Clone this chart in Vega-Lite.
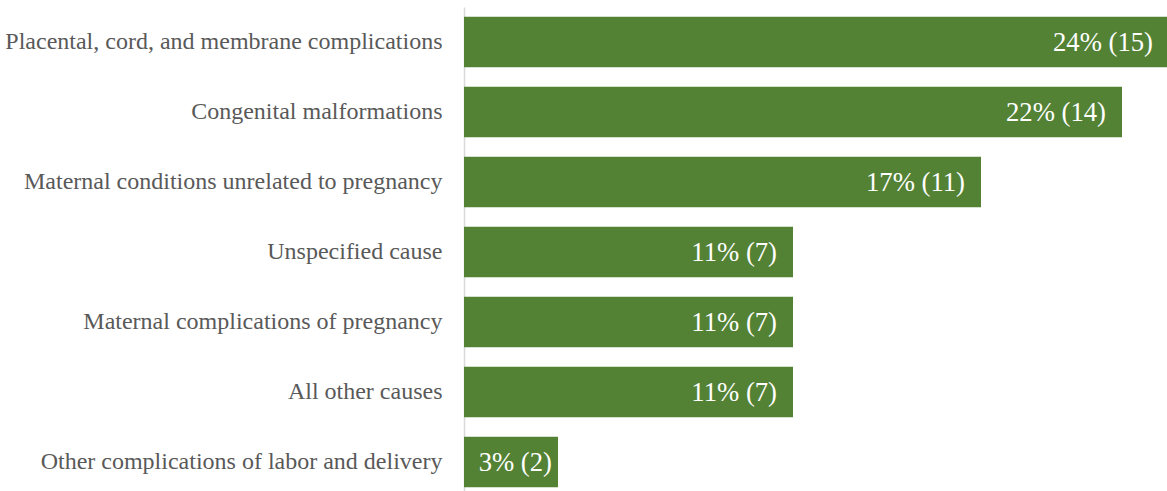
{
  "$schema": "https://vega.github.io/schema/vega-lite/v6.json",
  "width": 705,
  "height": 490,
  "autosize": {"type": "none"},
  "padding": {"left": 464, "top": 7, "right": 0, "bottom": 0},
  "background": "white",
  "config": {"view": {"stroke": null}, "font": "Liberation Serif"},
  "data": {
    "values": [
      {"cause": "Placental, cord, and membrane complications", "count": 15, "label": "24% (15)"},
      {"cause": "Congenital malformations", "count": 14, "label": "22% (14)"},
      {"cause": "Maternal conditions unrelated to pregnancy", "count": 11, "label": "17% (11)"},
      {"cause": "Unspecified cause", "count": 7, "label": "11% (7)"},
      {"cause": "Maternal complications of pregnancy", "count": 7, "label": "11% (7)"},
      {"cause": "All other causes", "count": 7, "label": "11% (7)"},
      {"cause": "Other complications of labor and delivery", "count": 2, "label": "3% (2)"}
    ]
  },
  "encoding": {
    "y": {
      "field": "cause",
      "type": "nominal",
      "sort": null,
      "scale": {"paddingInner": 0.28, "paddingOuter": 0.14},
      "axis": {
        "title": null,
        "ticks": false,
        "labelFontSize": 24,
        "labelFont": "Liberation Serif",
        "labelColor": "#595959",
        "labelPadding": 22,
        "labelLimit": 600,
        "domainColor": "#d9d9d9",
        "domainWidth": 1.5
      }
    },
    "x": {
      "field": "count",
      "type": "quantitative",
      "scale": {"domain": [0, 15], "nice": false},
      "axis": null
    }
  },
  "layer": [
    {"mark": {"type": "bar", "color": "#548235"}},
    {
      "transform": [{"filter": "datum.count >= 5"}],
      "mark": {"type": "text", "align": "right", "baseline": "middle", "dx": -16, "dy": 1, "color": "white", "fontSize": 26.7, "font": "Liberation Serif"},
      "encoding": {"text": {"field": "label"}}
    },
    {
      "transform": [{"filter": "datum.count < 5"}],
      "mark": {"type": "text", "align": "right", "baseline": "middle", "dx": -6, "dy": 1, "color": "white", "fontSize": 26.7, "font": "Liberation Serif"},
      "encoding": {"text": {"field": "label"}}
    }
  ]
}
